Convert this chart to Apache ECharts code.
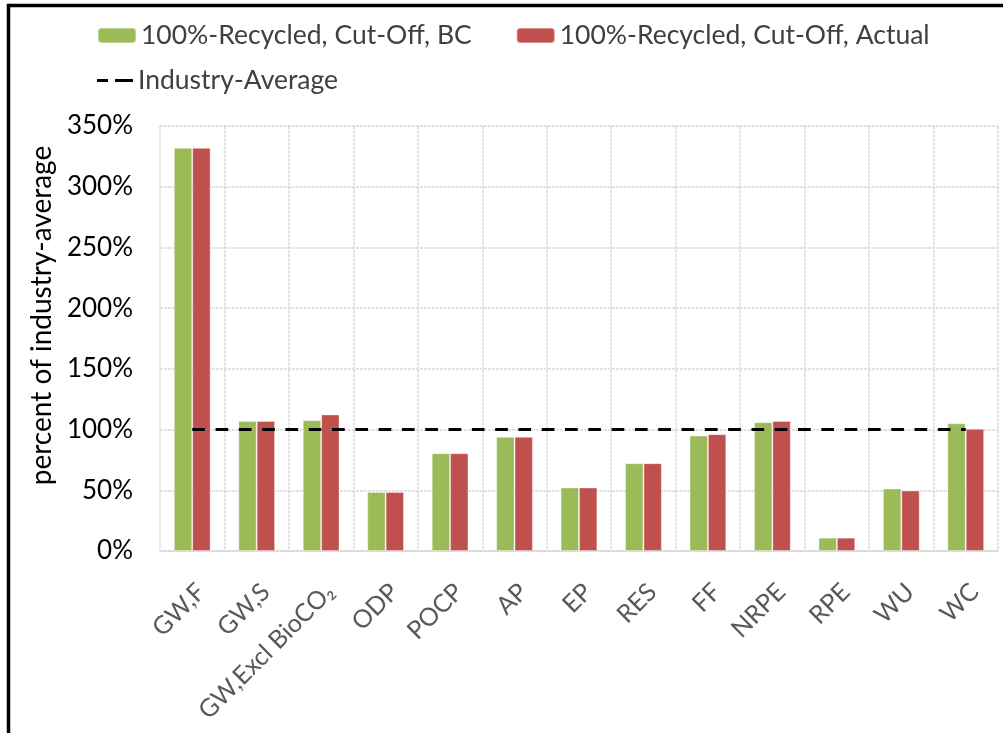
<!DOCTYPE html>
<html>
<head>
<meta charset="utf-8">
<script src="https://cdn.jsdelivr.net/npm/echarts@6/dist/echarts.min.js"></script>
<style>
  html, body { margin: 0; padding: 0; background: #fff; }
  #chart { width: 1003px; height: 733px; }
</style>
</head>
<body>
<div id="chart"></div>
<script>
// Impact categories on the x axis
const categories = ['GW,F', 'GW,S', 'GW,Excl BioCO\u2082', 'ODP', 'POCP', 'AP', 'EP', 'RES', 'FF', 'NRPE', 'RPE', 'WU', 'WC'];

// Percent of industry average for each scenario
const recycledBC     = [332, 107, 107.7, 48.6, 80.5, 94, 52.3, 72.3, 95.1, 106.1, 11, 51.4, 105.2];
const recycledActual = [332, 107, 112.4, 48.6, 80.5, 94, 52.3, 72.3, 96.2, 107.1, 11, 49.8, 100.6];

// Industry-average reference level
const industryAverage = [100, 100, 100, 100, 100, 100, 100, 100, 100, 100, 100, 100, 100];

// Y axis range (percent)
const yMin = 0, yMax = 350, yStep = 50;

const FONT = 'Lato, "Open Sans", sans-serif';
const chart = echarts.init(document.getElementById('chart'), null, { renderer: 'canvas' });

chart.setOption({
  animation: false,
  backgroundColor: '#ffffff',
  textStyle: { fontFamily: FONT },
  graphic: [
    { type: 'line', shape: { x1: 7, y1: 5.5, x2: 1003, y2: 5.5 }, style: { stroke: '#000', lineWidth: 3.5 } },
    { type: 'line', shape: { x1: 8.5, y1: 4, x2: 8.5, y2: 733 }, style: { stroke: '#000', lineWidth: 3.5 } }
  ],
  legend: [
    {
      data: ['100%-Recycled, Cut-Off, BC', '100%-Recycled, Cut-Off, Actual'],
      left: 97, top: 22, padding: 0,
      itemWidth: 38, itemHeight: 15, itemGap: 44,
      textStyle: { fontFamily: FONT, fontSize: 26.5, color: '#404040' }
    },
    {
      // two short dashes as the key for the reference line
      data: [{ name: 'Industry-Average', icon: 'path://M0,0h11v3h-11z M18,0h18v3h-18z' }],
      left: 97, top: 67, padding: 0,
      itemWidth: 36, itemHeight: 3,
      itemStyle: { color: '#000' },
      textStyle: { fontFamily: FONT, fontSize: 26.5, color: '#404040' }
    }
  ],
  grid: { left: 160, right: 5, top: 126, bottom: 182, containLabel: false, outerBoundsMode: 'none' },
  xAxis: {
    type: 'category',
    data: categories,
    boundaryGap: true,
    axisLine: { show: true, lineStyle: { color: '#D9D9D9', width: 1.5 } },
    axisTick: { show: false },
    splitLine: { show: true, lineStyle: { color: '#D9D9D9', width: 1.5, type: [3, 1] } },
    axisLabel: {
      interval: 0,
      rotate: 45,
      margin: 28,
      verticalAlign: 'top',
      fontFamily: FONT,
      fontSize: 25,
      color: '#595959'
    }
  },
  yAxis: {
    type: 'value',
    min: yMin, max: yMax, interval: yStep,
    name: 'percent of industry-average',
    nameLocation: 'middle',
    nameGap: 102,
    nameTextStyle: { fontFamily: FONT, fontSize: 28, color: '#000', padding: [0, 0, 0, 46] },
    axisLine: { show: false },
    axisTick: { show: false },
    splitLine: { show: true, lineStyle: { color: '#D9D9D9', width: 1.5, type: [3, 1] } },
    axisLabel: {
      margin: 27,
      fontFamily: FONT, fontSize: 26, color: '#000',
      formatter: v => v + '%'
    }
  },
  series: [
    {
      name: '100%-Recycled, Cut-Off, BC',
      type: 'bar',
      data: recycledBC,
      barGap: '0%',
      barCategoryGap: '43%',
      itemStyle: { color: '#9BBB59', borderColor: 'rgba(255,255,255,0.35)', borderWidth: 1 }
    },
    {
      name: '100%-Recycled, Cut-Off, Actual',
      type: 'bar',
      data: recycledActual,
      barGap: '0%',
      barCategoryGap: '43%',
      itemStyle: { color: '#C0504D', borderColor: 'rgba(255,255,255,0.35)', borderWidth: 1 }
    },
    {
      name: 'Industry-Average',
      type: 'line',
      data: industryAverage,
      symbol: 'none',
      z: 5,
      lineStyle: { color: '#000', width: 3, type: [12.7, 10.6] },
      itemStyle: { color: '#000' }
    }
  ]
});
</script>
</body>
</html>
